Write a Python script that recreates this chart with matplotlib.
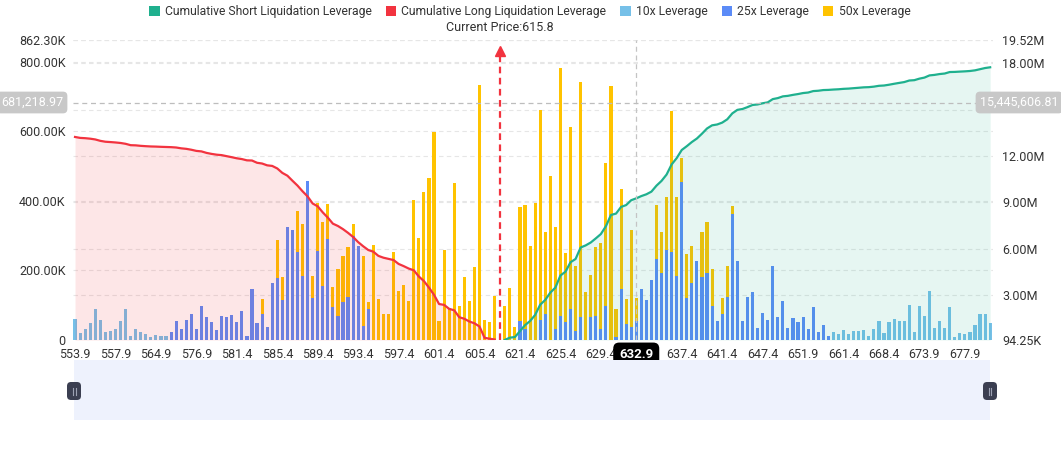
"""Liquidation leverage map: stacked leverage bars + cumulative long/short lines."""

import numpy as np
import matplotlib.pyplot as plt
from matplotlib.patches import Patch, Rectangle, FancyBboxPatch
from matplotlib.lines import Line2D

plt.rcParams["font.family"] = ["Roboto", "DejaVu Sans"]

# --- data (liquidation volume per price level, thousands) ---
N_LEVELS = 182

lev10 = (
    [60, 19, 32, 50, 90, 57, 22, 26, 33, 54, 89, 11, 32, 22, 18, 9, 14, 11, 11]   # 0-18
    + [0] * 131                                                                 # 19-149
    + [23, 17, 28, 16, 27, 27, 28, 12, 33, 54, 19, 51, 61, 56, 54, 101,
       23, 98, 69, 141, 34, 54, 34, 96, 9, 19, 17, 23, 42, 75, 75, 48]          # 150-181
)

lev25 = (
    [0] * 19
    + [22, 54, 33, 58, 75, 32, 97, 65, 51, 29, 68, 66, 71, 51, 82, 11,
       146, 48, 75, 38, 164, 179, 116, 326, 315, 254, 185, 456]                 # 19-46
    + [121, 255, 156, 291, 96, 68, 110, 124, 299, 270, 41, 89]                  # 47-58
    + [0] * 26                                                                  # 59-84
    + [0, 0, 0, 54, 33, 0, 0, 58, 74, 0, 32, 70, 53, 90, 27, 67, 0, 65, 70,
       32, 99, 0, 10, 146, 47, 38, 54, 146, 116, 172, 232, 194, 259, 254,
       185, 454, 121, 163, 228, 181, 194, 98, 54, 76, 125, 363, 227]            # 85-131
    + [55, 123, 138, 34, 77, 57, 212, 66, 112, 34, 63, 53, 65, 33, 94,
       22, 44, 11]                                                              # 132-149
    + [0] * 32
)

lev50 = (
    [0] * 37
    + [43, 0, 0, 108, 65, 0, 0, 116, 149, 0]                                    # 37-46
    + [63, 138, 182, 100, 55, 136, 131, 142, 34, 0, 200, 19]                    # 47-58
    + [272, 118, 76, 75, 253, 141, 158, 112, 403, 293, 424, 467, 598, 55,
       258, 93, 450, 98, 180, 113, 209, 732, 57, 52, 126]                       # 59-83
    + [0]                                                                       # 84 (current price)
    + [97, 150, 38, 329, 354, 270, 393, 604, 236, 470, 293, 713, 197, 521,
       185, 675, 138, 121, 197, 248, 409, 729, 79, 287, 71, 277, 67, 0, 0,
       0, 155, 115, 151, 403, 225, 70, 126, 106, 0, 130, 144, 106, 0, 45,
       89, 22, 0]                                                               # 85-131
    + [0] * 50
)

tick_labels = ["553.9", "557.9", "564.9", "576.9", "581.4", "585.4", "589.4",
               "593.4", "597.4", "601.4", "605.4", "621.4", "625.4", "629.4",
               "", "637.4", "641.4", "647.4", "651.9", "661.4", "668.4",
               "673.9", "677.9"]

CURRENT_PRICE = 615.8
CURRENT_IDX = 84
HOVER_IDX = 111
HOVER_LABEL = "632.9"
HOVER_LEFT = "681,218.97"
HOVER_RIGHT = "15,445,606.81"

LEFT_MAX = 862.30        # K
RIGHT_MIN, RIGHT_MAX = 0.09425, 19.52   # M

# --- derived ---
lev10 = np.array(lev10, dtype=float)
lev25 = np.array(lev25, dtype=float)
lev50 = np.array(lev50, dtype=float)
total = lev10 + lev25 + lev50
long_cum = np.cumsum(total[:CURRENT_IDX][::-1])[::-1] / 1000.0
short_cum = np.cumsum(total[CURRENT_IDX + 1:]) / 1000.0
x = np.arange(N_LEVELS)

# --- colours ---
green = "#1FB08E"
red = "#F2333F"
c10 = "#76C0E8"
c25 = "#5B8BF7"
c50 = "#FFC300"
grid_c = "#E6E6E6"
txt = "#333333"

fig = plt.figure(figsize=(10.61, 4.5), dpi=100)
ax = fig.add_axes([72.5 / 1061, 110 / 450, 920.2 / 1061, 300 / 450])
ax.set_xlim(-0.5, N_LEVELS - 0.5)
ax.set_ylim(0, LEFT_MAX)

# grid lines for both axes (drawn behind bars)
for v in [200, 400, 600, 800, LEFT_MAX]:
    ax.axhline(v, color=grid_c, ls=(0, (4, 3)), lw=0.8, zorder=0)
for v in [3, 6, 9, 12, 15, 18, RIGHT_MAX]:
    ax.axhline((v - RIGHT_MIN) / (RIGHT_MAX - RIGHT_MIN) * LEFT_MAX,
               color=grid_c, ls=(0, (4, 3)), lw=0.8, zorder=0)

bw = 0.62
ax.bar(x, lev10, width=bw, color=c10, zorder=2)
ax.bar(x, lev25, width=bw, bottom=lev10, color=c25, zorder=2)
ax.bar(x, lev50, width=bw, bottom=lev10 + lev25, color=c50, zorder=2)

ax.set_yticks([0, 200, 400, 600, 800, LEFT_MAX])
ax.set_yticklabels(["0", "200.00K", "400.00K", "600.00K", "800.00K", "862.30K"])
ax.set_xticks(np.arange(0, 8 * len(tick_labels), 8))
ax.set_xticklabels(tick_labels)
ax.tick_params(axis="y", length=0, pad=5, labelsize=9, labelcolor=txt)
ax.tick_params(axis="x", length=0, pad=5.5, labelsize=9, labelcolor=txt)
for s in ax.spines.values():
    s.set_visible(False)

# cumulative lines on the right axis
ax2 = ax.twinx()
ax2.set_ylim(RIGHT_MIN, RIGHT_MAX)
xl = x[:CURRENT_IDX]
xs = x[CURRENT_IDX + 1:]
ax2.fill_between(xl, long_cum, RIGHT_MIN, color=red, alpha=0.12, lw=0)
ax2.fill_between(xs, short_cum, RIGHT_MIN, color=green, alpha=0.11, lw=0)
ax2.plot(xl, long_cum, color=red, lw=1.6)
ax2.plot(xs, short_cum, color=green, lw=1.6)

ax2.set_yticks([RIGHT_MIN, 3, 6, 9, 12, 18, RIGHT_MAX])
ax2.set_yticklabels(["94.25K", "3.00M", "6.00M", "9.00M", "12.00M", "18.00M", "19.52M"])
ax2.tick_params(axis="y", length=0, pad=7, labelsize=9, labelcolor=txt)
for s in ax2.spines.values():
    s.set_visible(False)

# current price marker
trans = ax2.get_xaxis_transform()
ax2.plot([CURRENT_IDX, CURRENT_IDX], [0, 0.955], transform=trans, color=red,
         lw=1.6, ls=(0, (3, 2)), clip_on=False)
ax2.plot(CURRENT_IDX, 0.963, transform=trans, marker="^", ms=7, color=red,
         clip_on=False)
ax2.text(CURRENT_IDX, 1.043, f"Current Price:{CURRENT_PRICE}", transform=trans,
         ha="center", va="center", fontsize=9, color=txt)

# crosshair
hover_frac = 0.79
ax2.axvline(HOVER_IDX, color="#C4C4C4", ls=(0, (4, 3)), lw=0.9)
ax2.axhline(RIGHT_MIN + hover_frac * (RIGHT_MAX - RIGHT_MIN), color="#BDBDBD",
            ls=(0, (4, 3)), lw=0.9)
ax2.text(HOVER_IDX, -0.05, HOVER_LABEL, transform=trans, ha="center", va="center",
         fontsize=9.5, color="white", fontweight="bold",
         bbox=dict(boxstyle="round,pad=0.45", fc="black", ec="none"))
y_hover = 1 - 102.5 / 450
fig.text(63 / 1061, y_hover, HOVER_LEFT, ha="right", va="center", fontsize=9,
         color="white", bbox=dict(boxstyle="round,pad=0.35", fc="#C8C8C8", ec="none"))
fig.text(980 / 1061, y_hover, HOVER_RIGHT, ha="left", va="center", fontsize=9,
         color="white", bbox=dict(boxstyle="round,pad=0.35", fc="#C8C8C8", ec="none"))

# legend
handles = [Patch(fc=green), Patch(fc=red), Patch(fc=c10), Patch(fc=c25), Patch(fc=c50)]
labels = ["Cumulative Short Liquidation Leverage", "Cumulative Long Liquidation Leverage",
          "10x Leverage", "25x Leverage", "50x Leverage"]
fig.legend(handles, labels, loc="center", bbox_to_anchor=(0.4995, 1 - 12 / 450),
           ncol=5, frameon=False, fontsize=8.7, handlelength=0.85, handleheight=0.85,
           handletextpad=0.45, columnspacing=1.15, labelcolor=txt)

# data-zoom slider
fig.add_artist(Rectangle((74 / 1061, 30 / 450), 916 / 1061, 60 / 450,
                         transform=fig.transFigure, fc="#EEF2FD", ec="none"))
for cx in [74, 990]:
    fig.add_artist(FancyBboxPatch(((cx - 7) / 100, 0.50), 0.14, 0.18,
                                  boxstyle="round,pad=0,rounding_size=0.04",
                                  transform=fig.dpi_scale_trans, fc="#3B3F51", ec="none"))
    for dx in [-1.5, 1.5]:
        fig.add_artist(Line2D([(cx + dx) / 100] * 2, [0.555, 0.625],
                              transform=fig.dpi_scale_trans, color="#9DA2B3", lw=0.8))

fig.savefig("out.png", dpi=100)
